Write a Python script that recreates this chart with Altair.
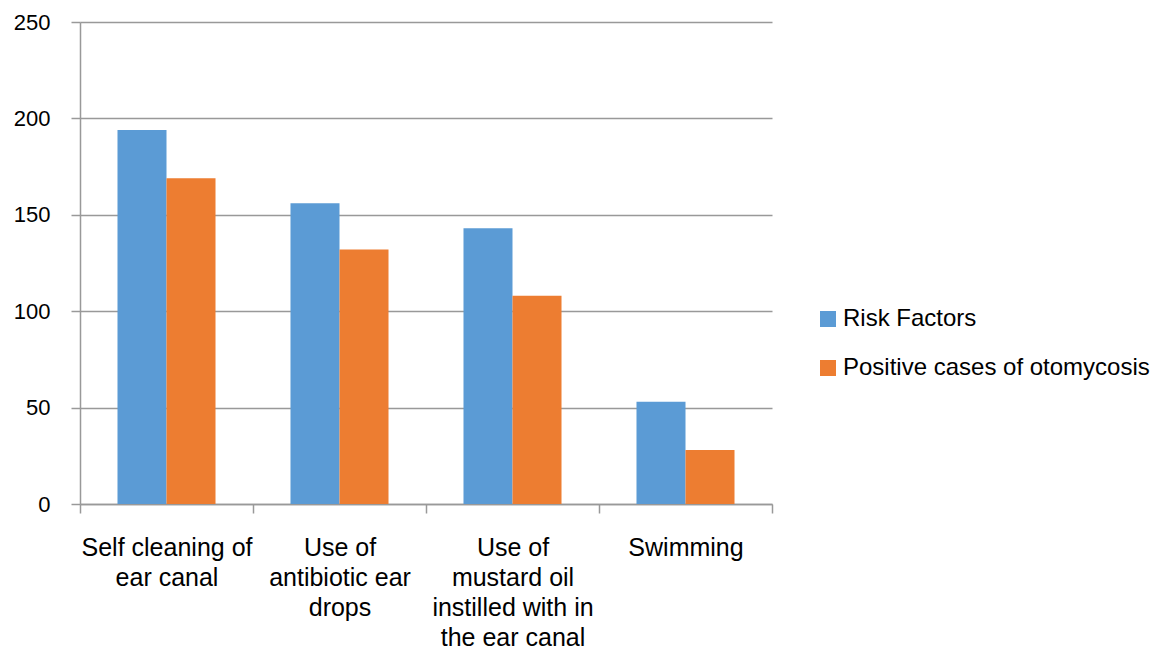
import altair as alt
import pandas as pd

categories = ["Self cleaning of\near canal", "Use of\nantibiotic ear\ndrops",
              "Use of\nmustard oil\ninstilled with in\nthe ear canal", "Swimming"]
series = ["Risk Factors", "Positive cases of otomycosis"]
risk_factors = [194, 156, 143, 53]
positive_cases = [169, 132, 108, 28]
colors = ["#5B9BD5", "#ED7D31"]

rows = []
for c, a, b in zip(categories, risk_factors, positive_cases):
    rows.append({"cat": c, "series": series[0], "value": a})
    rows.append({"cat": c, "series": series[1], "value": b})
df = pd.DataFrame(rows)

FONT = "Liberation Sans"

chart = alt.Chart(df).mark_bar().encode(
    x=alt.X("cat:N", sort=categories,
            scale=alt.Scale(paddingInner=0, paddingOuter=0),
            axis=alt.Axis(title=None, labelAngle=0, labelExpr="split(datum.label, '\\n')",
                          labelFontSize=25, labelFont=FONT, labelColor="#000",
                          labelLineHeight=30, labelPadding=22, labelBaseline="top",
                          labelLimit=0,
                          tickBand="extent", tickSize=9, tickColor="#999", tickWidth=1.5,
                          domainColor="#999", domainWidth=1.5, grid=False)),
    xOffset=alt.XOffset("series:N", sort=series,
                        scale=alt.Scale(paddingInner=0, paddingOuter=0.765)),
    y=alt.Y("value:Q", scale=alt.Scale(domain=[0, 250]),
            axis=alt.Axis(title=None, values=[0, 50, 100, 150, 200, 250],
                          labelFontSize=22, labelFont=FONT, labelColor="#000",
                          labelPadding=21, tickSize=9, tickColor="#999", tickWidth=1.5,
                          domainColor="#999", domainWidth=1.5,
                          gridColor="#999", gridWidth=1.5)),
    color=alt.Color("series:N", sort=series,
                    scale=alt.Scale(domain=series, range=colors),
                    legend=alt.Legend(title=None, orient="none", legendX=736, legendY=285,
                                      symbolType="square", symbolSize=256,
                                      symbolStrokeWidth=0, labelLimit=0,
                                      labelFontSize=24, labelFont=FONT, labelColor="#000",
                                      rowPadding=25, labelOffset=3)),
).properties(
    width=692, height=482,
    autosize=alt.AutoSizeParams(type="none"),
    padding={"left": 72, "top": 14, "right": 383, "bottom": 150},
).configure_view(stroke=None)

chart.save("out.html", embed_options={"renderer": "svg", "actions": False})
